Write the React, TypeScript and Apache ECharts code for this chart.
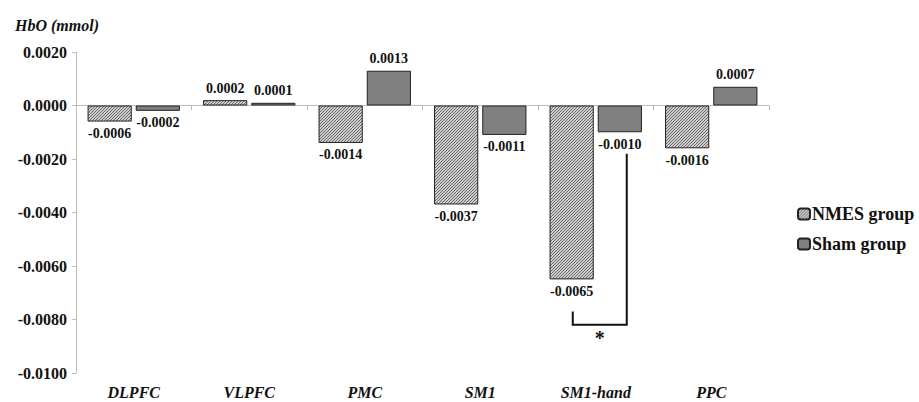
import React, { useEffect, useRef } from "react";
import * as echarts from "echarts";

const categories = ["DLPFC", "VLPFC", "PMC", "SM1", "SM1-hand", "PPC"];
const nmesValues = [-0.0006, 0.0002, -0.0014, -0.0037, -0.0065, -0.0016];
const shamValues = [-0.0002, 0.0001, 0.0013, -0.0011, -0.0010, 0.0007];
const yTicks = { min: -0.01, max: 0.002, interval: 0.002 };
// significance bracket (SM1-hand): y values in data units
const bracketCategory = "SM1-hand";
const bracketTopValue = -0.0018;
const bracketLeftTopValue = -0.0077;
const bracketBottomValue = -0.0082;
const bracketAsteriskValue = -0.0087;

const FONT = "Liberation Serif";

const hatchSvg =
  "<svg xmlns='http://www.w3.org/2000/svg' width='3' height='3'>" +
  "<rect width='3' height='3' fill='#cfcfcf'/>" +
  "<path d='M-1,1 L1,-1 M0,3 L3,0 M2,4 L4,2' stroke='#5a5a5a' stroke-width='0.9'/></svg>";
const hatchUrl = "data:image/svg+xml;charset=utf-8," + encodeURIComponent(hatchSvg);

function buildData(values: number[]) {
  return values.map((v) => ({
    value: v,
    label: { position: v >= 0 ? "top" : "bottom" },
  }));
}

export default function App() {
  const ref = useRef<HTMLDivElement>(null);
  useEffect(() => {
    if (!ref.current) return;
    const chart = echarts.init(ref.current, undefined, { renderer: "svg" });
    const labelStyle = {
      show: true,
      distance: 5,
      fontFamily: FONT,
      fontWeight: "bold",
      fontSize: 14,
      color: "#111",
      formatter: (p: any) => Number(p.value).toFixed(4),
    };
    const hatch: any = { image: hatchUrl, repeat: "repeat", imageWidth: 3, imageHeight: 3 };
    chart.setOption({
      animation: false,
      backgroundColor: "#fff",
      textStyle: { fontFamily: FONT },
      title: {
        text: "HbO (mmol)",
        left: 10,
        top: 12,
        textStyle: {
          fontFamily: FONT,
          fontStyle: "italic",
          fontWeight: "bold",
          fontSize: 16,
          color: "#111",
        },
      },
      legend: {
        orient: "vertical",
        left: 792,
        top: 200,
        itemWidth: 12,
        itemHeight: 11,
        itemGap: 12,
        textStyle: {
          fontFamily: FONT,
          fontWeight: "bold",
          fontSize: 18,
          color: "#111",
          padding: [0, 0, 0, -3],
        },
        data: ["NMES group", "Sham group"],
      },
      grid: { left: 76, right: 150, top: 52, bottom: 29, containLabel: false },
      xAxis: [
        {
          type: "category",
          data: categories,
          axisLine: { onZero: true, lineStyle: { color: "#bdbdbd", width: 1 } },
          axisTick: { show: true, length: 5, lineStyle: { color: "#bdbdbd" } },
          axisLabel: { show: false },
        },
        {
          type: "category",
          data: categories,
          position: "bottom",
          axisLine: { show: false, onZero: false },
          axisTick: { show: false },
          axisLabel: {
            margin: 11,
            fontFamily: FONT,
            fontStyle: "italic",
            fontWeight: "bold",
            fontSize: 16,
            color: "#111",
          },
        },
      ],
      yAxis: {
        type: "value",
        min: yTicks.min,
        max: yTicks.max,
        interval: yTicks.interval,
        axisLine: { show: true, lineStyle: { color: "#bdbdbd" } },
        axisTick: { show: true, length: 4, lineStyle: { color: "#bdbdbd" } },
        splitLine: { show: false },
        axisLabel: {
          margin: 9,
          fontFamily: FONT,
          fontWeight: "bold",
          fontSize: 16,
          color: "#111",
          formatter: (v: number) => {
            const r = Math.round(v * 10000) / 10000;
            return (Math.abs(r) < 1e-9 ? 0 : r).toFixed(4);
          },
        },
      },
      series: [
        {
          name: "NMES group",
          type: "bar",
          xAxisIndex: 0,
          barCategoryGap: "20%",
          barGap: "9%",
          data: buildData(nmesValues),
          itemStyle: {
            color: hatch,
            borderColor: "#222",
            borderWidth: 1,
          },
          label: labelStyle,
        },
        {
          name: "Sham group",
          type: "bar",
          xAxisIndex: 0,
          data: buildData(shamValues),
          itemStyle: { color: "#808080", borderColor: "#222", borderWidth: 1 },
          label: labelStyle,
        },
      ],
    });

    // significance bracket placed via the chart's own scales
    const cx = chart.convertToPixel({ xAxisIndex: 0 }, bracketCategory) as number;
    const yTop = chart.convertToPixel({ yAxisIndex: 0 }, bracketTopValue) as number;
    const yLeftTop = chart.convertToPixel({ yAxisIndex: 0 }, bracketLeftTopValue) as number;
    const yBottom = chart.convertToPixel({ yAxisIndex: 0 }, bracketBottomValue) as number;
    const yStar = chart.convertToPixel({ yAxisIndex: 0 }, bracketAsteriskValue) as number;
    const xl = cx - 23;
    const xr = cx + 31;
    chart.setOption({
      graphic: [
        {
          type: "polyline",
          shape: {
            points: [
              [xl, yLeftTop],
              [xl, yBottom],
              [xr, yBottom],
              [xr, yTop],
            ],
          },
          style: { stroke: "#111", lineWidth: 2, fill: null },
        },
        {
          type: "text",
          x: (xl + xr) / 2,
          y: yStar,
          style: {
            text: "*",
            fontFamily: FONT,
            fontWeight: "bold",
            fontSize: 20,
            fill: "#111",
            align: "center",
            verticalAlign: "middle",
          },
        },
      ],
    });
    return () => chart.dispose();
  }, []);
  return <div ref={ref} style={{ width: 919, height: 402, position: "absolute", left: 0, top: 0 }} />;
}
